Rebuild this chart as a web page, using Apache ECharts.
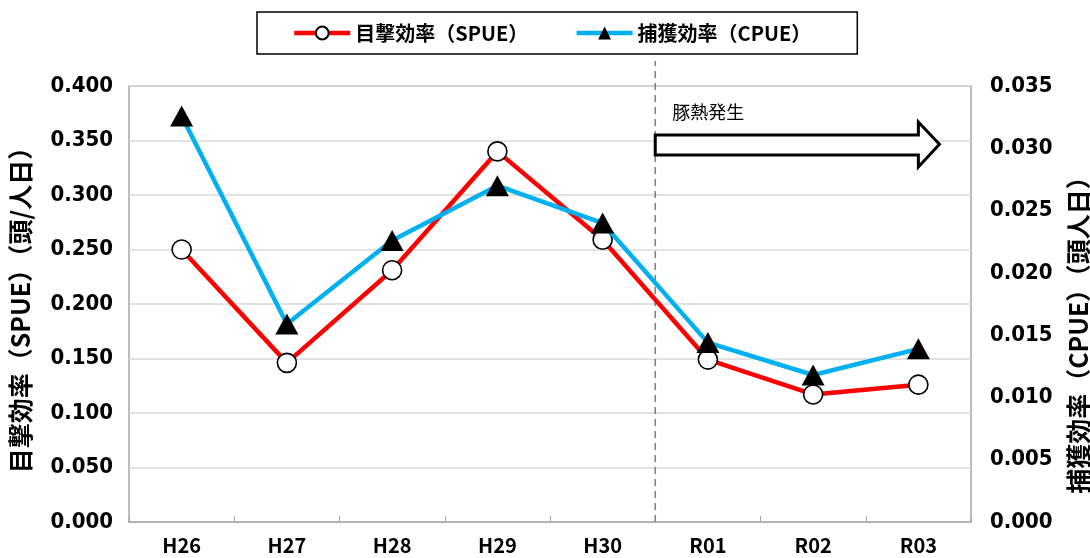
<!DOCTYPE html>
<html>
<head>
<meta charset="utf-8">
<script src="https://cdn.jsdelivr.net/npm/echarts@6/dist/echarts.min.js"></script>
<style>
html,body{margin:0;padding:0;background:#fff;}
#c{width:1090px;height:558px;}
</style>
</head>
<body>
<div id="c"></div>
<script>
const categories = ['H26','H27','H28','H29','H30','R01','R02','R03'];
const spue = [0.250, 0.146, 0.231, 0.340, 0.259, 0.149, 0.117, 0.126];
const cpue = [0.0326, 0.0159, 0.0226, 0.0270, 0.0240, 0.0144, 0.0118, 0.0139];
const seriesNames = ['目撃効率（SPUE）', '捕獲効率（CPUE）'];
const leftAxisName = '目撃効率（SPUE）（頭/人日）';
const rightAxisName = '捕獲効率（CPUE）（頭人日）';
const annotationText = '豚熱発生';

const FONT = '"Noto Sans CJK JP", sans-serif';
const NUMFONT = '"DejaVu Sans Condensed", "Liberation Sans Narrow", "Noto Sans CJK JP", sans-serif';
const chart = echarts.init(document.getElementById('c'), null, {renderer: 'canvas'});

const option = {
  animation: false,
  backgroundColor: '#fff',
  textStyle: {fontFamily: FONT},
  grid: {left: 129, right: 119, top: 86, bottom: 36, show: true, borderColor: '#a6a6a6', borderWidth: 1.5,
    containLabel: false, outerBoundsMode: 'none'},
  legend: {
    left: 257, top: 12,
    padding: [11, 46, 11, 35],
    itemGap: 46, itemWidth: 56, itemHeight: 16,
    borderColor: '#000', borderWidth: 1.5,
    lineStyle: {width: 4.5},
    textStyle: {fontFamily: FONT, fontWeight: 'bold', fontSize: 20, color: '#000'},
    data: seriesNames
  },
  xAxis: {
    type: 'category', data: categories, boundaryGap: true,
    axisLine: {show: true, lineStyle: {color: '#a6a6a6', width: 1.5}},
    axisTick: {show: true, inside: true, length: 6, lineStyle: {color: '#a6a6a6', width: 1}},
    axisLabel: {margin: 13, color: '#000', fontFamily: FONT, fontWeight: 'bold', fontSize: 20},
    splitLine: {show: false}
  },
  yAxis: [
    {
      type: 'value', min: 0, max: 0.4, interval: 0.05, position: 'left',
      name: leftAxisName, nameLocation: 'middle', nameRotate: 90, nameGap: 96,
      nameTextStyle: {fontFamily: FONT, fontWeight: 'bold', fontSize: 25, color: '#000'},
      axisLine: {show: false}, axisTick: {show: false},
      axisLabel: {margin: 16, color: '#000', fontFamily: NUMFONT, fontWeight: 'bold', fontSize: 22,
        formatter: v => v.toFixed(3)},
      splitLine: {show: true, lineStyle: {color: '#d9d9d9', width: 1.5}}
    },
    {
      type: 'value', min: 0, max: 0.035, interval: 0.005, position: 'right',
      name: rightAxisName, nameLocation: 'middle', nameRotate: 90, nameGap: 95,
      nameTextStyle: {fontFamily: FONT, fontWeight: 'bold', fontSize: 25, color: '#000', padding: [0, 50, 0, 0]},
      axisLine: {show: false}, axisTick: {show: false},
      axisLabel: {margin: 19, color: '#000', fontFamily: NUMFONT, fontWeight: 'bold', fontSize: 22,
        formatter: v => v.toFixed(3)},
      splitLine: {show: false}
    }
  ],
  series: [
    {
      name: seriesNames[0], type: 'line', yAxisIndex: 0, data: spue,
      lineStyle: {color: '#ff0000', width: 4.5},
      itemStyle: {color: '#ffffff', borderColor: '#000', borderWidth: 1.6},
      symbol: 'circle', symbolSize: 19, z: 3
    },
    {
      name: seriesNames[1], type: 'line', yAxisIndex: 1, data: cpue,
      lineStyle: {color: '#00b0f0', width: 4.5},
      itemStyle: {color: '#000', borderColor: '#000', borderWidth: 0},
      symbol: 'triangle', symbolSize: [23, 21], z: 4
    }
  ]
};
chart.setOption(option);

// Annotation: dashed divider between H30 and R01 and block arrow, placed through axis scales
function xAt(idx) {
  const i0 = Math.floor(idx), f = idx - i0;
  const a = chart.convertToPixel({xAxisIndex: 0}, categories[Math.min(i0, categories.length - 1)]);
  const step = chart.convertToPixel({xAxisIndex: 0}, categories[1]) - chart.convertToPixel({xAxisIndex: 0}, categories[0]);
  return a + f * step;
}
function yAt(v) { return chart.convertToPixel({yAxisIndex: 0}, v); }

const divX = xAt(4.5);
const yBottom = yAt(0);
const bodyTop = yAt(0.355), bodyBot = yAt(0.3367);
const headTop = yAt(0.367), headBot = yAt(0.3257), tipY = yAt(0.3465);
const headX = xAt(7), tipX = xAt(7.2);

chart.setOption({
  graphic: [
    {type: 'line', shape: {x1: divX, y1: yBottom, x2: divX, y2: 61},
     style: {stroke: '#808080', lineWidth: 1.6, lineDash: [7, 5]}, z: 1},
    {type: 'polygon', shape: {points: [
      [divX, bodyTop], [headX, bodyTop], [headX, headTop], [tipX, tipY],
      [headX, headBot], [headX, bodyBot], [divX, bodyBot]]},
     style: {fill: '#fff', stroke: '#000', lineWidth: 3}, z: 5},
    {type: 'text', x: divX + 17, y: yAt(0.376), style: {text: annotationText, fill: '#000',
      font: '18px "Noto Sans CJK JP", sans-serif', textVerticalAlign: 'middle'}, z: 5}
  ]
});
</script>
</body>
</html>
